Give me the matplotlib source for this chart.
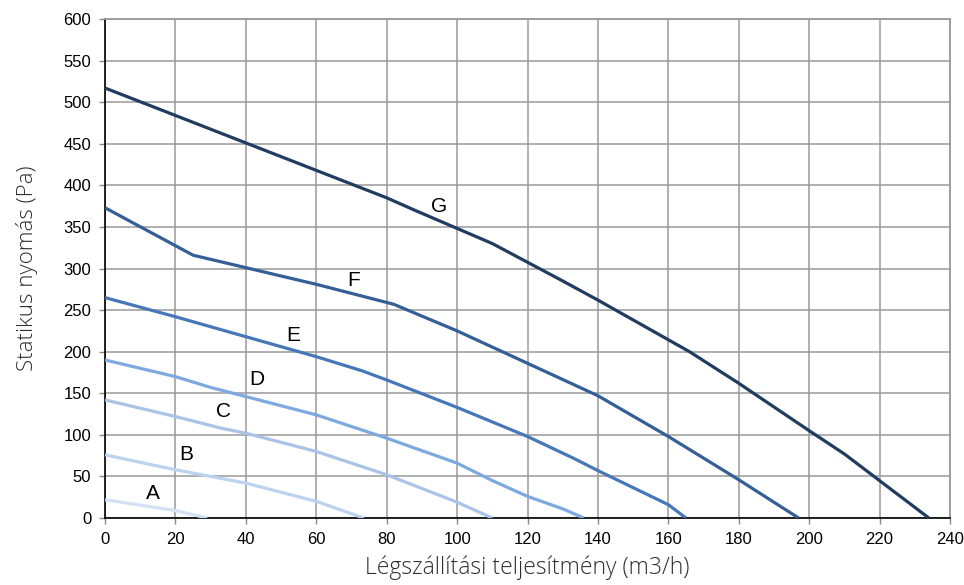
import matplotlib
matplotlib.use("Agg")
import matplotlib.pyplot as plt

# ── Data ─────────────────────────────────────────────────────────
a_x = [0, 20, 29]
a_y = [22, 9, 0]
b_x = [0, 20, 40, 60, 73.5]
b_y = [76, 58, 42, 20, 0]
c_x = [0, 20, 33, 40, 60, 80, 100, 110]
c_y = [142, 122, 108, 102, 80, 52, 19, 0]
d_x = [0, 20, 30, 40, 60, 80, 100, 110, 120, 130, 136]
d_y = [190, 170, 157, 146, 124, 96, 66, 45, 26, 11, 0]
e_x = [0, 20, 40, 60, 73, 80, 100, 120, 133, 140, 160, 165]
e_y = [265, 242, 218, 194, 177, 166, 133, 98, 72, 57, 16, 0]
f_x = [0, 25, 40, 60, 82, 100, 120, 140, 160, 180, 197]
f_y = [373, 316, 301, 281, 257, 225, 186, 147, 98, 46, 0]
g_x = [0, 20, 40, 60, 80, 88, 110, 130, 140, 166, 180, 200, 210, 234]
g_y = [517, 484, 451, 418, 385, 370, 330, 285, 262, 200, 162, 105, 77, 0]

curve_names = ["A", "B", "C", "D", "E", "F", "G"]
label_x = [13.5, 23, 33.5, 43, 53.5, 70.5, 95]
label_y = [30, 76, 128, 166, 220, 286, 374]

x_ticks = list(range(0, 241, 20))
y_ticks = list(range(0, 601, 50))

colors = ["#d3e1f4", "#bcd2ee", "#a9c4e6", "#7ea9e0", "#4677b8", "#335f96", "#203c60"]

# ── Plot ─────────────────────────────────────────────────────────
plt.rcParams["font.family"] = ["Liberation Sans", "DejaVu Sans"]
plt.rcParams["xtick.labelsize"] = 12
plt.rcParams["ytick.labelsize"] = 12

fig = plt.figure(figsize=(9.64, 5.85), dpi=100)
ax = fig.add_axes([0.109, 0.1145, 0.8765, 0.853])

series = [(a_x, a_y), (b_x, b_y), (c_x, c_y), (d_x, d_y),
          (e_x, e_y), (f_x, f_y), (g_x, g_y)]
for (xs, ys), col in zip(series, colors):
    ax.plot(xs, ys, color=col, linewidth=2.3, solid_capstyle="butt", zorder=3)

for name, lx, ly in zip(curve_names, label_x, label_y):
    ax.text(lx, ly, name, fontsize=15, ha="center", va="center",
            color="black", zorder=4)

ax.set_xlim(0, 240)
ax.set_ylim(0, 600)
ax.set_xticks(x_ticks)
ax.set_yticks(y_ticks)
ax.grid(True, color="#9a9a9a", linewidth=1.1)
ax.set_axisbelow(True)
for s in ["top", "right"]:
    ax.spines[s].set_color("#9a9a9a")
    ax.spines[s].set_linewidth(1.3)
for s in ["left", "bottom"]:
    ax.spines[s].set_color("black")
    ax.spines[s].set_linewidth(1.2)
ax.tick_params(direction="out", length=4, width=1, color="#888888", pad=6)

ax.set_xlabel("Légszállítási teljesítmény (m3/h)", fontsize=16.5,
              family="Open Sans", fontweight="light", color="#2e2e2e", labelpad=6)
ax.set_ylabel("Statikus nyomás (Pa)", fontsize=16,
              family="Open Sans", fontweight="light", color="#2e2e2e", labelpad=18)

fig.savefig("out.png", dpi=100)
